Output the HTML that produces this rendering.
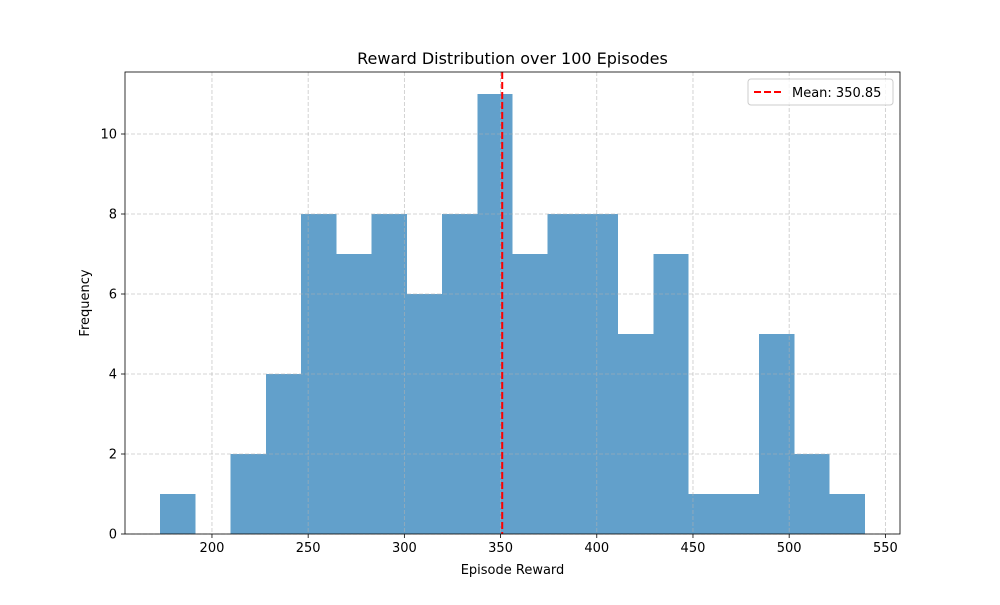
<!DOCTYPE html>
<html><head><meta charset="utf-8"><style>
body{margin:0;background:#fff;font-family:"Liberation Sans","DejaVu Sans",sans-serif}
svg text{font-family:"DejaVu Sans","Liberation Sans",sans-serif;fill:#000}
</style></head><body>
<svg id="c" width="1000" height="600" xmlns="http://www.w3.org/2000/svg"></svg>
<script>
const binStart = 173.0;
const binWidth = 18.32;
const counts = [1,0,2,4,8,7,8,6,8,11,7,8,8,5,7,1,1,5,2,1];
const meanValue = 350.85;
const xTicks = [200,250,300,350,400,450,500,550];
const yTicks = [0,2,4,6,8,10];

const L=125,R=900,T=72,B=534;
const xMin=154.8,xMax=557.6,yMax=11.55;
const x=v=>L+(v-xMin)/(xMax-xMin)*(R-L);
const y=v=>B-v/yMax*(B-T);
const svg=document.getElementById('c');
const NS='http://www.w3.org/2000/svg';
function mk(tag,attrs,parent){const e=document.createElementNS(NS,tag);for(const k in attrs)e.setAttribute(k,attrs[k]);(parent||svg).appendChild(e);return e;}

counts.forEach((c,i)=>{
  if(c===0)return;
  const x0=x(binStart+i*binWidth),x1=x(binStart+(i+1)*binWidth);
  const r=mk('rect',{x:x0,y:y(c),width:x1-x0,height:y(0)-y(c),fill:'#62a0cb','shape-rendering':'crispEdges'});
  
  
});
xTicks.forEach(t=>{
  const g=mk('line',{x1:x(t),x2:x(t),y1:T,y2:B,stroke:'#b0b0b0','stroke-width':0.8,'stroke-dasharray':'4,2','stroke-opacity':0.7});
  
  
  mk('line',{x1:x(t),x2:x(t),y1:B,y2:B+4,stroke:'#000','stroke-width':0.8});
  const tx=mk('text',{x:x(t),y:B+18,'text-anchor':'middle','font-size':13});
  tx.textContent=t;
  
  
});
yTicks.forEach(t=>{
  const g=mk('line',{x1:L,x2:R,y1:y(t),y2:y(t),stroke:'#b0b0b0','stroke-width':0.8,'stroke-dasharray':'4,2','stroke-opacity':0.7});
  
  
  mk('line',{x1:L-4,x2:L,y1:y(t),y2:y(t),stroke:'#000','stroke-width':0.8});
  const tx=mk('text',{x:L-8,y:y(t)+4.5,'text-anchor':'end','font-size':13});
  tx.textContent=t;
  
  
});
const ml=mk('line',{x1:x(meanValue),x2:x(meanValue),y1:T,y2:B,stroke:'#ff0000','stroke-width':2,'stroke-dasharray':'7,3'});


const fr=mk('rect',{x:L,y:T,width:R-L,height:B-T,fill:'none',stroke:'#000','stroke-width':0.8});


const lg=mk('g',{});


mk('rect',{x:748,y:79,width:145,height:26,rx:3,fill:'#fff','fill-opacity':0.8,stroke:'#ccc'},lg);
mk('line',{x1:754,x2:782,y1:92,y2:92,stroke:'#ff0000','stroke-width':2,'stroke-dasharray':'7,3'},lg);
const lt=mk('text',{x:792,y:97,'font-size':13},lg);
lt.textContent='Mean: '+meanValue.toFixed(2);


const ti=mk('text',{x:(L+R)/2,y:64,'text-anchor':'middle','font-size':16});
ti.textContent='Reward Distribution over 100 Episodes';


const xt=mk('text',{x:(L+R)/2,y:574,'text-anchor':'middle','font-size':13});
xt.textContent='Episode Reward';


const yt=mk('text',{x:89,y:(T+B)/2,'text-anchor':'middle','font-size':13,transform:'rotate(-90 89 '+((T+B)/2)+')'});
yt.textContent='Frequency';


</script>
</body></html>
